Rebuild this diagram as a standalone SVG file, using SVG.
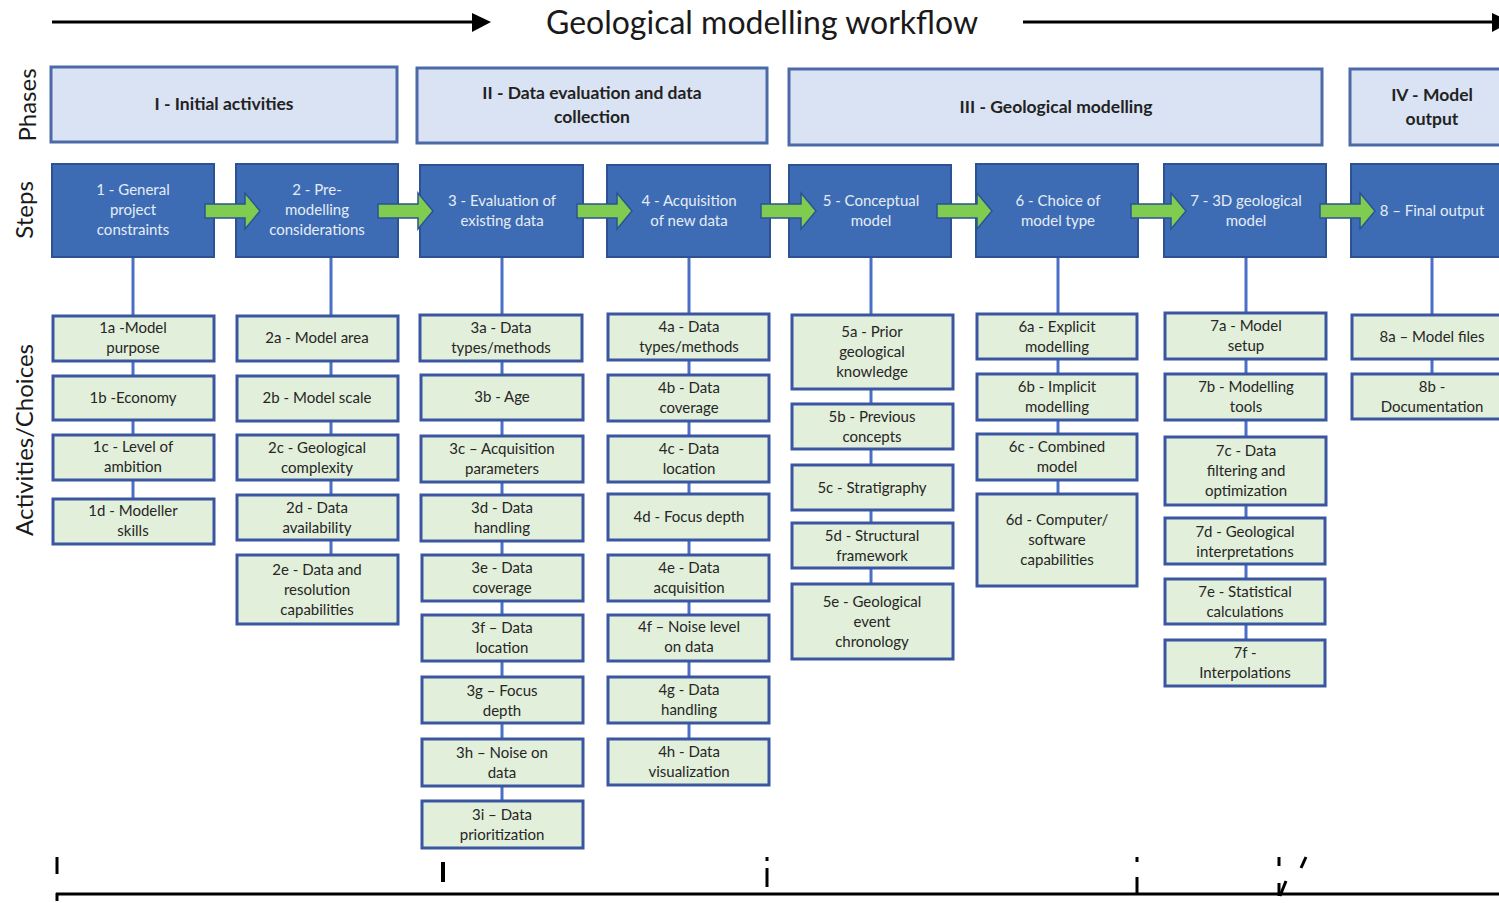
<svg xmlns="http://www.w3.org/2000/svg" width="1499" height="903" viewBox="0 0 1499 903">
<style>
text{font-family:Lato,"Liberation Sans",sans-serif;text-anchor:middle}
.title{font-size:32px;fill:#1a1a1a}
.side{font-size:24px;fill:#1a1a1a}
.phase rect{fill:#dae3f3;stroke:#4b6aa7;stroke-width:3}
.phase text{font-size:17.5px;font-weight:bold;fill:#222}
.step rect{fill:#3d6cb4;stroke:#2d5294;stroke-width:2}
.step text{font-size:15px;fill:#e6ecf6}
.act rect{fill:#e2efda;stroke:#3a56a0;stroke-width:3}
.act text{font-size:15px;fill:#262626}
.conn line{stroke:#4a6fc6;stroke-width:3}
.garrow{fill:#80cc50;stroke:#2d5294;stroke-width:1.5}
.mark{stroke:#000;stroke-width:3;fill:none}
</style>
<defs>
<path id="ga" d="M0,-7 H40 V-18 L55,0 L40,18 V7 H0 Z"/>
</defs>
<rect width="1499" height="903" fill="#fff"/>
<g id="header">
<line x1="52" y1="22" x2="472" y2="22" stroke="#000" stroke-width="3"/>
<path d="M472,13 L491,22 L472,32 Z" fill="#000"/>
<text class="title" x="762" y="34">Geological modelling workflow</text>
<line x1="1023" y1="22" x2="1499" y2="22" stroke="#000" stroke-width="3"/>
<path d="M1492,13 L1511,22 L1492,32 Z" fill="#000"/>
</g>
<g id="side-labels">
<text class="side" transform="translate(36,105) rotate(-90)">Phases</text>
<text class="side" transform="translate(33,210) rotate(-90)">Steps</text>
<text class="side" transform="translate(33,440) rotate(-90)">Activities/Choices</text>
</g>
<g id="phases" class="phase">
<g id="phase-1"><rect x="51" y="67" width="346" height="75"/><text x="224" y="110">I - Initial activities</text></g>
<g id="phase-2"><rect x="417" y="68" width="350" height="75"/><text x="592" y="99">II - Data evaluation and data</text><text x="592" y="123">collection</text></g>
<g id="phase-3"><rect x="789" y="69" width="533" height="76"/><text x="1056" y="113">III - Geological modelling</text></g>
<g id="phase-4"><rect x="1350" y="69" width="160" height="76"/><text x="1432" y="101">IV - Model</text><text x="1432" y="125">output</text></g>
</g>
<g id="connectors" class="conn">
<line x1="133" y1="257" x2="133" y2="499"/>
<line x1="331" y1="257" x2="331" y2="555"/>
<line x1="502" y1="257" x2="502" y2="801"/>
<line x1="689" y1="257" x2="689" y2="739"/>
<line x1="871" y1="257" x2="871" y2="584"/>
<line x1="1058" y1="257" x2="1058" y2="494"/>
<line x1="1246" y1="257" x2="1246" y2="639"/>
<line x1="1432" y1="257" x2="1432" y2="373"/>
</g>
<g id="steps" class="step">
<g id="step-1"><rect x="52" y="164" width="162" height="93"/><text x="133" y="195">1 - General</text><text x="133" y="215">project</text><text x="133" y="235">constraints</text></g>
<g id="step-2"><rect x="236" y="164" width="162" height="93"/><text x="317" y="195">2 - Pre-</text><text x="317" y="215">modelling</text><text x="317" y="235">considerations</text></g>
<g id="step-3"><rect x="420" y="165" width="163" height="92"/><text x="502" y="206">3 - Evaluation of</text><text x="502" y="226">existing data</text></g>
<g id="step-4"><rect x="607" y="165" width="163" height="92"/><text x="689" y="206">4 - Acquisition</text><text x="689" y="226">of new data</text></g>
<g id="step-5"><rect x="789" y="165" width="162" height="92"/><text x="871" y="206">5 - Conceptual</text><text x="871" y="226">model</text></g>
<g id="step-6"><rect x="976" y="164" width="162" height="93"/><text x="1058" y="206">6 - Choice of</text><text x="1058" y="226">model type</text></g>
<g id="step-7"><rect x="1164" y="164" width="162" height="93"/><text x="1246" y="206">7 - 3D geological</text><text x="1246" y="226">model</text></g>
<g id="step-8"><rect x="1351" y="164" width="160" height="93"/><text x="1432" y="216">8 – Final output</text></g>
</g>
<g id="step-arrows" class="garrow">
<use href="#ga" x="205" y="211"/>
<use href="#ga" x="378" y="211"/>
<use href="#ga" x="577" y="211"/>
<use href="#ga" x="761" y="211"/>
<use href="#ga" x="937" y="211"/>
<use href="#ga" x="1131" y="211"/>
<use href="#ga" x="1320" y="211"/>
</g>
<g id="activities" class="act">
<g id="a1a"><rect x="53" y="316" width="161" height="45"/><text x="133" y="333">1a -Model</text><text x="133" y="353">purpose</text></g>
<g id="a1b"><rect x="53" y="376" width="161" height="44"/><text x="133" y="403">1b -Economy</text></g>
<g id="a1c"><rect x="53" y="435" width="161" height="45"/><text x="133" y="452">1c - Level of</text><text x="133" y="472">ambition</text></g>
<g id="a1d"><rect x="53" y="499" width="161" height="45"/><text x="133" y="516">1d - Modeller</text><text x="133" y="536">skills</text></g>

<g id="a2a"><rect x="237" y="316" width="161" height="45"/><text x="317" y="343">2a - Model area</text></g>
<g id="a2b"><rect x="237" y="376" width="161" height="45"/><text x="317" y="403">2b - Model scale</text></g>
<g id="a2c"><rect x="237" y="435" width="161" height="45"/><text x="317" y="453">2c - Geological</text><text x="317" y="473">complexity</text></g>
<g id="a2d"><rect x="237" y="495" width="161" height="45"/><text x="317" y="513">2d - Data</text><text x="317" y="533">availability</text></g>
<g id="a2e"><rect x="237" y="555" width="161" height="69"/><text x="317" y="575">2e - Data and</text><text x="317" y="595">resolution</text><text x="317" y="615">capabilities</text></g>

<g id="a3a"><rect x="420" y="315" width="162" height="46"/><text x="501" y="333">3a - Data</text><text x="501" y="353">types/methods</text></g>
<g id="a3b"><rect x="421" y="375" width="162" height="45"/><text x="502" y="402">3b - Age</text></g>
<g id="a3c"><rect x="421" y="436" width="162" height="46"/><text x="502" y="454">3c – Acquisition</text><text x="502" y="474">parameters</text></g>
<g id="a3d"><rect x="421" y="495" width="162" height="46"/><text x="502" y="513">3d - Data</text><text x="502" y="533">handling</text></g>
<g id="a3e"><rect x="422" y="555" width="161" height="46"/><text x="502" y="573">3e - Data</text><text x="502" y="593">coverage</text></g>
<g id="a3f"><rect x="422" y="615" width="161" height="46"/><text x="502" y="633">3f – Data</text><text x="502" y="653">location</text></g>
<g id="a3g"><rect x="422" y="677" width="161" height="46"/><text x="502" y="696">3g – Focus</text><text x="502" y="716">depth</text></g>
<g id="a3h"><rect x="422" y="739" width="161" height="47"/><text x="502" y="758">3h – Noise on</text><text x="502" y="778">data</text></g>
<g id="a3i"><rect x="422" y="801" width="161" height="47"/><text x="502" y="820">3i – Data</text><text x="502" y="840">prioritization</text></g>

<g id="a4a"><rect x="608" y="314" width="161" height="46"/><text x="689" y="332">4a - Data</text><text x="689" y="352">types/methods</text></g>
<g id="a4b"><rect x="608" y="375" width="161" height="46"/><text x="689" y="393">4b - Data</text><text x="689" y="413">coverage</text></g>
<g id="a4c"><rect x="608" y="436" width="161" height="46"/><text x="689" y="454">4c - Data</text><text x="689" y="474">location</text></g>
<g id="a4d"><rect x="608" y="494" width="161" height="46"/><text x="689" y="522">4d - Focus depth</text></g>
<g id="a4e"><rect x="608" y="555" width="161" height="46"/><text x="689" y="573">4e - Data</text><text x="689" y="593">acquisition</text></g>
<g id="a4f"><rect x="608" y="615" width="161" height="46"/><text x="689" y="632">4f – Noise level</text><text x="689" y="652">on data</text></g>
<g id="a4g"><rect x="608" y="677" width="161" height="46"/><text x="689" y="695">4g - Data</text><text x="689" y="715">handling</text></g>
<g id="a4h"><rect x="608" y="739" width="161" height="46"/><text x="689" y="757">4h - Data</text><text x="689" y="777">visualization</text></g>

<g id="a5a"><rect x="792" y="315" width="161" height="74"/><text x="872" y="337">5a - Prior</text><text x="872" y="357">geological</text><text x="872" y="377">knowledge</text></g>
<g id="a5b"><rect x="792" y="404" width="161" height="45"/><text x="872" y="422">5b - Previous</text><text x="872" y="442">concepts</text></g>
<g id="a5c"><rect x="792" y="465" width="161" height="45"/><text x="872" y="493">5c - Stratigraphy</text></g>
<g id="a5d"><rect x="792" y="523" width="161" height="45"/><text x="872" y="541">5d - Structural</text><text x="872" y="561">framework</text></g>
<g id="a5e"><rect x="792" y="584" width="161" height="75"/><text x="872" y="607">5e - Geological</text><text x="872" y="627">event</text><text x="872" y="647">chronology</text></g>

<g id="a6a"><rect x="977" y="314" width="160" height="45"/><text x="1057" y="332">6a - Explicit</text><text x="1057" y="352">modelling</text></g>
<g id="a6b"><rect x="977" y="374" width="160" height="46"/><text x="1057" y="392">6b - Implicit</text><text x="1057" y="412">modelling</text></g>
<g id="a6c"><rect x="977" y="434" width="160" height="46"/><text x="1057" y="452">6c - Combined</text><text x="1057" y="472">model</text></g>
<g id="a6d"><rect x="977" y="494" width="160" height="92"/><text x="1057" y="525">6d - Computer/</text><text x="1057" y="545">software</text><text x="1057" y="565">capabilities</text></g>

<g id="a7a"><rect x="1165" y="313" width="161" height="46"/><text x="1246" y="331">7a - Model</text><text x="1246" y="351">setup</text></g>
<g id="a7b"><rect x="1165" y="374" width="161" height="46"/><text x="1246" y="392">7b - Modelling</text><text x="1246" y="412">tools</text></g>
<g id="a7c"><rect x="1165" y="437" width="161" height="68"/><text x="1246" y="456">7c - Data</text><text x="1246" y="476">filtering and</text><text x="1246" y="496">optimization</text></g>
<g id="a7d"><rect x="1165" y="518" width="160" height="46"/><text x="1245" y="537">7d - Geological</text><text x="1245" y="557">interpretations</text></g>
<g id="a7e"><rect x="1165" y="579" width="160" height="45"/><text x="1245" y="597">7e - Statistical</text><text x="1245" y="617">calculations</text></g>
<g id="a7f"><rect x="1165" y="640" width="160" height="46"/><text x="1245" y="658">7f -</text><text x="1245" y="678">Interpolations</text></g>

<g id="a8a"><rect x="1352" y="315" width="160" height="44"/><text x="1432" y="342">8a – Model files</text></g>
<g id="a8b"><rect x="1352" y="374" width="160" height="45"/><text x="1432" y="392">8b -</text><text x="1432" y="412">Documentation</text></g>
</g>
<g id="bottom-marks" class="mark">
<line x1="56" y1="894" x2="1499" y2="894"/>
<line x1="57" y1="893" x2="57" y2="901"/>
<line x1="57" y1="857" x2="57" y2="874"/>
<line x1="443" y1="862" x2="443" y2="882" stroke-width="4"/>
<line x1="767" y1="857" x2="767" y2="861"/>
<line x1="767" y1="868" x2="767" y2="887"/>
<line x1="1137" y1="857" x2="1137" y2="862"/>
<line x1="1137" y1="877" x2="1137" y2="893"/>
<line x1="1279" y1="857" x2="1279" y2="866"/>
<line x1="1306" y1="857" x2="1301" y2="868"/>
<line x1="1279" y1="883" x2="1279" y2="896"/>
<line x1="1286" y1="881" x2="1280" y2="896"/>
</g>
</svg>
